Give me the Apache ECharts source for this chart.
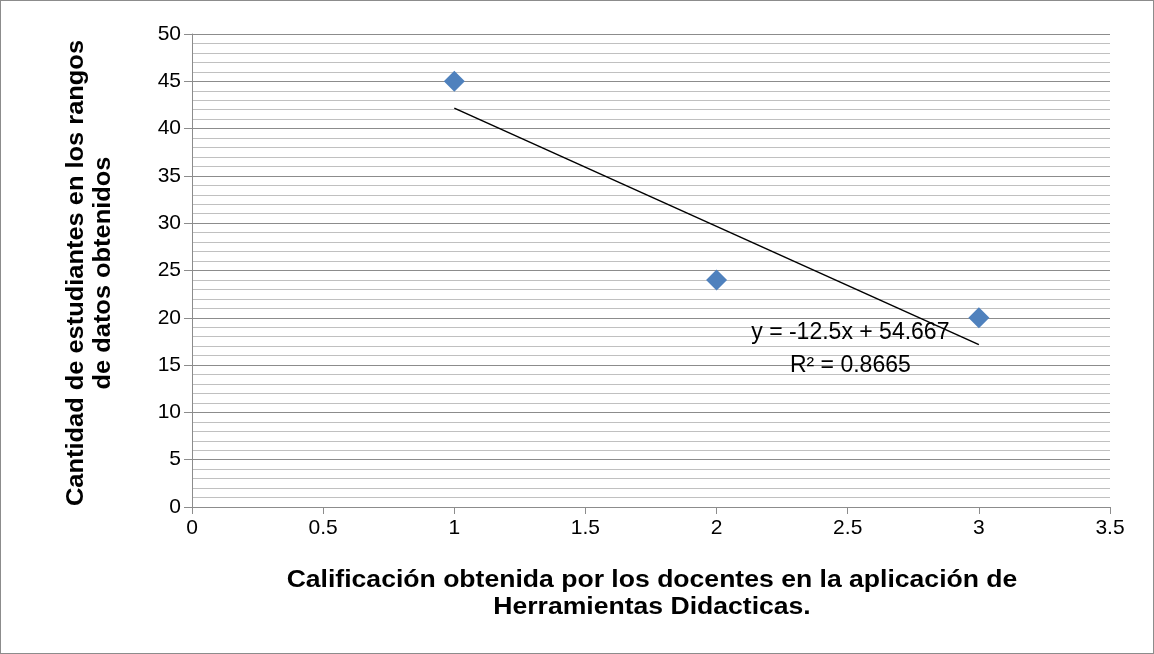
<!DOCTYPE html>
<html>
<head>
<meta charset="utf-8">
<script src="https://cdn.jsdelivr.net/npm/echarts@6/dist/echarts.min.js"></script>
<style>
  html, body { margin: 0; padding: 0; background: #fff; }
  #chart { width: 1154px; height: 654px; box-sizing: border-box; border: 1px solid #8c8c8c; }
</style>
</head>
<body>
<div id="chart"></div>
<script>
// Observed points: teacher score vs. number of students
const scores = [1, 2, 3];
const students = [45, 24, 20];

// Linear trend line y = slope * x + intercept, with its R²
const slope = -12.5;
const intercept = 54.667;
const rSquared = 0.8665;

const xTicks = { min: 0, max: 3.5, interval: 0.5 };
const yTicks = { min: 0, max: 50, interval: 5 };

const xTitle = 'Calificación obtenida por los docentes en la aplicación de\nHerramientas Didacticas.';
const yTitle = 'Cantidad de estudiantes en los rangos\nde datos obtenidos';

const trendStart = scores[0];
const trendEnd = scores[scores.length - 1];
const trendLine = [trendStart, trendEnd].map(x => [x, slope * x + intercept]);

const chart = echarts.init(document.getElementById('chart'));
const tickFont = { fontFamily: 'Liberation Sans', fontSize: 21, color: '#000' };

chart.setOption({
  animation: false,
  grid: { left: 191, top: 33, right: 43, bottom: 146 },
  xAxis: {
    type: 'value',
    min: xTicks.min, max: xTicks.max, interval: xTicks.interval,
    axisLine: { show: true, lineStyle: { color: '#8c8c8c', width: 1 } },
    axisTick: { show: true, inside: false, length: 7, lineStyle: { color: '#8c8c8c' } },
    axisLabel: { ...tickFont, margin: 11 },
    splitLine: { show: false }
  },
  yAxis: {
    type: 'value',
    min: yTicks.min, max: yTicks.max, interval: yTicks.interval,
    axisLine: { show: true, lineStyle: { color: '#8c8c8c', width: 1 } },
    axisTick: { show: true, length: 8, lineStyle: { color: '#8c8c8c' } },
    axisLabel: { ...tickFont, margin: 11 },
    splitLine: { show: true, lineStyle: { color: '#8c8c8c', width: 1 } },
    minorTick: { show: false, splitNumber: 5 },
    minorSplitLine: { show: true, lineStyle: { color: '#c0c0c0', width: 1 } }
  },
  series: [
    {
      type: 'line',
      data: trendLine,
      symbol: 'none',
      lineStyle: { color: '#000', width: 1.5 },
      z: 3
    },
    {
      type: 'scatter',
      data: scores.map((x, i) => [x, students[i]]),
      symbol: 'diamond',
      symbolSize: [21, 21],
      itemStyle: { color: '#4f81bd', opacity: 1 },
      z: 4
    }
  ]
});

// Trend equation and R² as text placed in data coordinates; axis titles beside the grid
const eqPos = chart.convertToPixel({ gridIndex: 0 }, [2.51, 18.4]);
const r2Pos = chart.convertToPixel({ gridIndex: 0 }, [2.51, 14.9]);
const titleFont = 'bold 23px "Liberation Sans"';
const labelFont = '23px "Liberation Sans"';
chart.setOption({
  graphic: [
    {
      type: 'text', x: eqPos[0], y: eqPos[1], z: 10,
      style: { text: 'y = -12.5x + 54.667', font: labelFont, fill: '#000', align: 'center', verticalAlign: 'middle' }
    },
    {
      type: 'text', x: r2Pos[0], y: r2Pos[1], z: 10,
      style: { text: 'R² = ' + rSquared, font: labelFont, fill: '#000', align: 'center', verticalAlign: 'middle' }
    },
    {
      type: 'text', x: 651, y: 593, scaleX: 1.155, z: 10,
      style: { text: xTitle, font: titleFont, fill: '#000', align: 'center', verticalAlign: 'middle', lineHeight: 27 }
    },
    {
      type: 'text', x: 89, y: 272, rotation: Math.PI / 2, scaleX: 1.105, z: 10,
      style: { text: yTitle, font: titleFont, fill: '#000', align: 'center', verticalAlign: 'middle', lineHeight: 27 }
    }
  ]
});
</script>
</body>
</html>
